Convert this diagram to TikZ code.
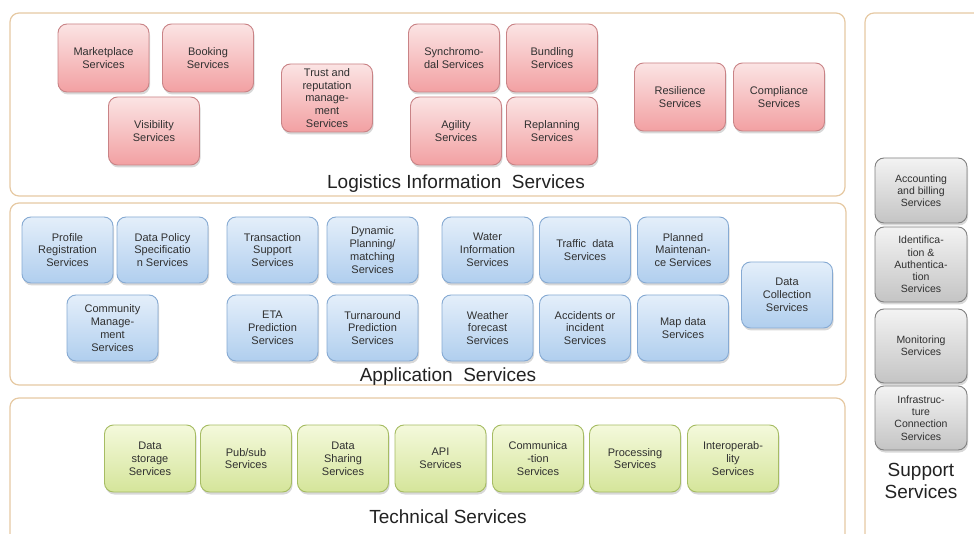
\documentclass[tikz,border=0pt]{standalone}
\usepackage{fontspec}
\setmainfont{Liberation Sans}
\usetikzlibrary{shadows}

\definecolor{paneline}{HTML}{E6C9A3}
\definecolor{svctext}{HTML}{303030}
\definecolor{titletext}{HTML}{222222}
\definecolor{logitop}{HTML}{FBE4E4}
\definecolor{logibot}{HTML}{F2A0A2}
\definecolor{logiline}{HTML}{C98386}
\definecolor{apptop}{HTML}{E4EFFA}
\definecolor{appbot}{HTML}{B0CEEE}
\definecolor{appline}{HTML}{86AAD3}
\definecolor{techtop}{HTML}{F4F9DC}
\definecolor{techbot}{HTML}{D5E59A}
\definecolor{techline}{HTML}{A6BC63}
\definecolor{suptop}{HTML}{F3F3F3}
\definecolor{supbot}{HTML}{C4C4C4}
\definecolor{supline}{HTML}{808080}

\begin{document}
\begin{tikzpicture}[x=1pt,y=-1pt,
    panel/.style={draw=paneline, line width=1.2pt, rounded corners=9pt, fill=white},
    title/.style={font=\fontsize{19}{21}\selectfont, text=titletext},
    svc/.style={rounded corners=9pt, minimum width=91pt, minimum height=68pt,
      align=center, inner sep=1pt, text=svctext, line width=0.9pt,
      font=\fontsize{11}{12.8}\selectfont,
      drop shadow={opacity=0.3, shadow xshift=1pt, shadow yshift=-2.5pt}},
    logi/.style={svc, draw=logiline, top color=logitop, bottom color=logibot},
    app/.style={svc, draw=appline, top color=apptop, bottom color=appbot, minimum height=66pt},
    tech/.style={svc, draw=techline, top color=techtop, bottom color=techbot, minimum height=67pt},
    sup/.style={svc, draw=supline, top color=suptop, bottom color=supbot, minimum width=92pt,
      font=\fontsize{10.5}{12.2}\selectfont}]
  \useasboundingbox (0,0) rectangle (974,534);
  \clip (0,0) rectangle (974,534);

  % layers
  \draw[panel] (10,13) rectangle (845,196);
  \draw[panel] (10,203) rectangle (846,385);
  \draw[panel] (10,398) rectangle (845,560);
  \draw[panel] (865,13) rectangle (1000,560);

  % logistics information services
  \path
    (103.5,58) node[logi] (market) {Marketplace\\Services}
    (208,58) node[logi] (booking) {Booking\\Services}
    (154,131) node[logi] (visib) {Visibility\\Services}
    (327,98) node[logi] (trust) {Trust and\\reputation\\manage-\\ment\\Services}
    (454,58) node[logi] (synchro) {Synchromo-\\dal Services}
    (552,58) node[logi] (bundle) {Bundling\\Services}
    (456,131) node[logi] (agility) {Agility\\Services}
    (552,131) node[logi] (replan) {Replanning\\Services}
    (680,97) node[logi] (resil) {Resilience\\Services}
    (779,97) node[logi] (compl) {Compliance\\Services};
  \node[title] (logititle) at (456,184) {Logistics Information\ \ Services};

  % application services
  \path
    (67.5,250) node[app] (profile) {Profile\\Registration\\Services}
    (162.5,250) node[app] (policy) {Data Policy\\Specificatio\\n Services}
    (112.5,328) node[app] (community) {Community\\Manage-\\ment\\Services}
    (272.5,250) node[app] (transact) {Transaction\\Support\\Services}
    (372.5,250) node[app] (dynamic) {Dynamic\\Planning/\\matching\\Services}
    (272.5,328) node[app] (eta) {ETA\\Prediction\\Services}
    (372.5,328) node[app] (turn) {Turnaround\\Prediction\\Services}
    (487.5,250) node[app] (water) {Water\\Information\\Services}
    (585,250) node[app] (traffic) {Traffic\ \ data\\Services}
    (683,250) node[app] (planned) {Planned\\Maintenan-\\ce Services}
    (487.5,328) node[app] (weather) {Weather\\forecast\\Services}
    (585,328) node[app] (accident) {Accidents or\\incident\\Services}
    (683,328) node[app] (mapdata) {Map data\\Services}
    (787,295) node[app] (collect) {Data\\Collection\\Services};
  \node[title] (apptitle) at (448,377) {Application\ \ Services};

  % technical services
  \path
    (150,458.5) node[tech] (storage) {Data\\storage\\Services}
    (246,458.5) node[tech] (pubsub) {Pub/sub\\Services}
    (343,458.5) node[tech] (sharing) {Data\\Sharing\\Services}
    (440.5,458.5) node[tech] (api) {API\\Services}
    (538,458.5) node[tech] (comm) {Communica\\-tion\\Services}
    (635,458.5) node[tech] (process) {Processing\\Services}
    (733,458.5) node[tech] (interop) {Interoperab-\\lity\\Services};
  \node[title] (techtitle) at (448,517) {Technical Services};

  % support services
  \path
    (921,190.5) node[sup, minimum height=65pt] (account) {Accounting\\and billing\\Services}
    (921,264.5) node[sup, minimum height=75pt] (ident) {Identifica-\\tion \&\\Authentica-\\tion\\Services}
    (921,346) node[sup, minimum height=74pt] (monitor) {Monitoring\\Services}
    (921,418) node[sup, minimum height=64pt] (infra) {Infrastruc-\\ture\\Connection\\Services};
  \node[title, align=center, font=\fontsize{19}{22}\selectfont] (suptitle) at (921,481) {Support\\Services};
\end{tikzpicture}
\end{document}
